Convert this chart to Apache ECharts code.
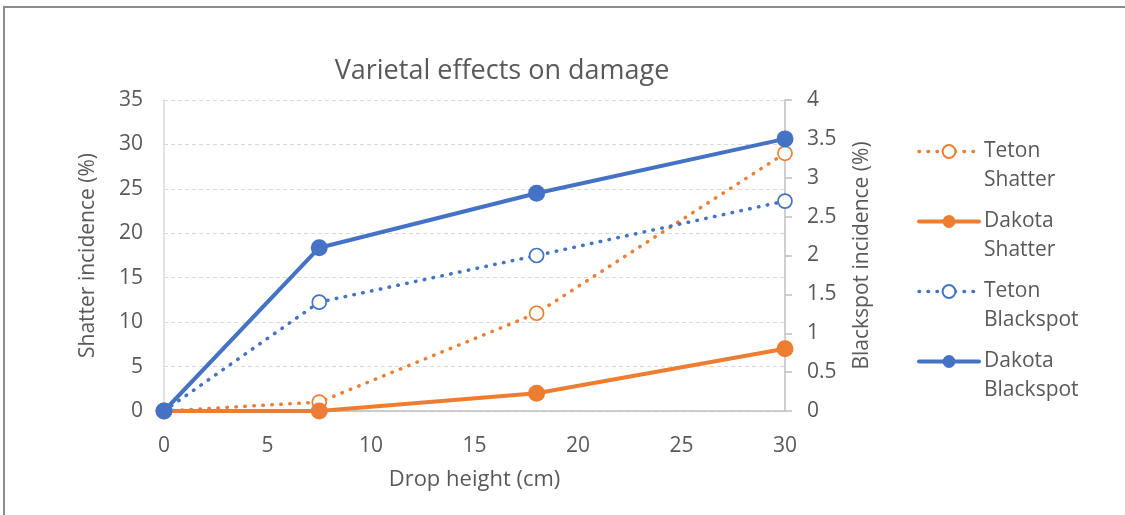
<!DOCTYPE html>
<html>
<head>
<meta charset="utf-8">
<script src="https://cdn.jsdelivr.net/npm/echarts@6/dist/echarts.min.js"></script>
<style>
  html, body { margin: 0; padding: 0; background: #fff; overflow: hidden; }
  #chart { position: absolute; left: 0; top: 0; width: 1125px; height: 515px; }
  #frame { position: absolute; left: 3px; top: 6px; width: 2000px; height: 2000px; border: 2px solid #8c8c8c; pointer-events: none; }
</style>
</head>
<body>
<div id="chart"></div>
<div id="frame"></div>
<script>
const dropHeights = [0, 7.5, 18, 30];
const tetonShatter = [0, 1, 11, 29];
const dakotaShatter = [0, 0, 2, 7];
const tetonBlackspot = [0, 1.4, 2.0, 2.7];
const dakotaBlackspot = [0, 2.1, 2.8, 3.5];
const seriesNames = ['Teton\nShatter', 'Dakota\nShatter', 'Teton\nBlackspot', 'Dakota\nBlackspot'];
const seriesDotted = [true, false, true, false];
const xTicks = { min: 0, max: 30, interval: 5 };
const leftTicks = { min: 0, max: 35, interval: 5 };
const rightTicks = { min: 0, max: 4, interval: 0.5 };

const ORANGE = '#ED7D31';
const BLUE = '#4472C4';
const TXT = '#595959';
const FONT = 'Open Sans';

function pairs(vals) { return dropHeights.map((x, i) => [x, vals[i]]); }

function mk(name, vals, color, dotted, axisIdx) {
  return {
    name: name,
    type: 'line',
    yAxisIndex: axisIdx,
    data: pairs(vals),
    symbol: 'circle',
    symbolSize: dotted ? 14 : 17,
    showSymbol: true,
    lineStyle: dotted ? { color: color, width: 3.5, type: [0.5, 8.5], cap: 'round' }
                      : { color: color, width: 4, cap: 'round' },
    itemStyle: dotted ? { color: '#fff', borderColor: color, borderWidth: 1.7 }
                      : { color: color, borderColor: color, borderWidth: 0 },
    emphasis: { disabled: true },
    animation: false
  };
}

const chart = echarts.init(document.getElementById('chart'), null, { renderer: 'canvas' });
chart.setOption({
  backgroundColor: '#fff',
  animation: false,
  textStyle: { fontFamily: FONT },
  title: {
    text: 'Varietal effects on damage',
    left: 497, top: 53, textAlign: 'center',
    textStyle: { fontFamily: FONT, fontSize: 27, fontWeight: 'normal', color: TXT }
  },
  grid: { left: 164, right: 340, top: 100, bottom: 104, containLabel: false },
  legend: {
    orient: 'vertical',
    left: 917, top: 106,
    padding: 0,
    itemWidth: 60, itemHeight: 16,
    itemGap: -21,
    data: seriesNames.map((n, i) => ({
      name: n,
      lineStyle: seriesDotted[i] ? { width: 3.5 } : { width: 4 }
    })),
    formatter: function (n) { return '\n' + n; },
    textStyle: { fontFamily: FONT, fontSize: 21, color: TXT, lineHeight: 29, padding: [4, 0, 0, 0] }
  },
  xAxis: {
    type: 'value', min: xTicks.min, max: xTicks.max, interval: xTicks.interval,
    name: 'Drop height (cm)', nameLocation: 'middle', nameGap: 58,
    nameTextStyle: { fontFamily: FONT, fontSize: 22, color: TXT },
    axisLine: { show: true, onZero: false, lineStyle: { color: '#bfbfbf', width: 1.5 } },
    axisTick: { show: false },
    splitLine: { show: false },
    axisLabel: { fontFamily: FONT, fontSize: 21, color: TXT, margin: 25 }
  },
  yAxis: [
    {
      type: 'value', position: 'left', min: leftTicks.min, max: leftTicks.max, interval: leftTicks.interval,
      name: 'Shatter incidence (%)', nameLocation: 'middle', nameGap: 65,
      nameTextStyle: { fontFamily: FONT, fontSize: 21, color: TXT },
      axisLine: { show: true, lineStyle: { color: '#d9d9d9', width: 1.5 } },
      axisTick: { show: false },
      splitLine: { show: true, lineStyle: { color: '#d9d9d9', width: 1, type: [4, 3] } },
      axisLabel: { fontFamily: FONT, fontSize: 21, color: TXT, margin: 21 }
    },
    {
      type: 'value', position: 'right', min: rightTicks.min, max: rightTicks.max, interval: rightTicks.interval,
      name: 'Blackspot incidence (%)', nameLocation: 'middle', nameGap: 67,
      nameTextStyle: { fontFamily: FONT, fontSize: 21, color: TXT },
      axisLine: { show: true, lineStyle: { color: '#bfbfbf', width: 1.5 } },
      axisTick: { show: true, length: 7, lineStyle: { color: '#bfbfbf', width: 1.5 } },
      splitLine: { show: false },
      axisLabel: { fontFamily: FONT, fontSize: 21, color: TXT, margin: 22 }
    }
  ],
  series: [
    mk(seriesNames[0], tetonShatter, ORANGE, seriesDotted[0], 0),
    mk(seriesNames[1], dakotaShatter, ORANGE, seriesDotted[1], 0),
    mk(seriesNames[2], tetonBlackspot, BLUE, seriesDotted[2], 1),
    mk(seriesNames[3], dakotaBlackspot, BLUE, seriesDotted[3], 1)
  ]
});
</script>
</body>
</html>
